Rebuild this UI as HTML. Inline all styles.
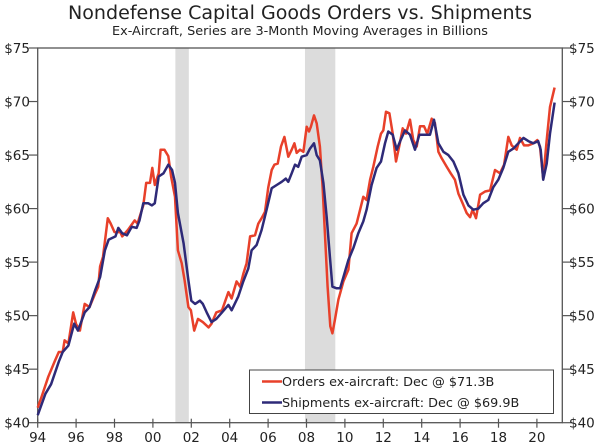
<!DOCTYPE html>
<html><head><meta charset="utf-8"><style>
html,body{margin:0;padding:0;background:#fff;}
svg{display:block;font-family:"DejaVu Sans","Liberation Sans",sans-serif;}
</style></head><body>
<svg id="chart" width="600" height="445" viewBox="0 0 600 445" xmlns="http://www.w3.org/2000/svg">
<text x="300" y="19" text-anchor="middle" font-size="18.5" fill="#222" textLength="464" lengthAdjust="spacingAndGlyphs">Nondefense Capital Goods Orders vs. Shipments</text>
<text x="300" y="35" text-anchor="middle" font-size="12.5" fill="#222" textLength="376" lengthAdjust="spacingAndGlyphs">Ex-Aircraft, Series are 3-Month Moving Averages in Billions</text>
<g id="recessions"></g>
<g id="axes"></g>
<g id="series"></g>
<g>
<rect x="249.5" y="370" width="304" height="43.5" fill="#fff" stroke="#444" stroke-width="1"/>
<line x1="262" y1="381.5" x2="282" y2="381.5" stroke="#e8402a" stroke-width="2.5"/>
<text x="282" y="386" font-size="12.8" fill="#222">Orders ex-aircraft: Dec @ $71.3B</text>
<line x1="262" y1="402.5" x2="282" y2="402.5" stroke="#2e2a78" stroke-width="2.5"/>
<text x="282" y="407" font-size="12.8" fill="#222">Shipments ex-aircraft: Dec @ $69.9B</text>
</g>
</svg>
<script>
const recStart = [2001.17, 2007.92];
const recEnd = [2001.87, 2009.5];
const yTicks = [40, 45, 50, 55, 60, 65, 70, 75];
const xTickYears = [1994,1996,1998,2000,2002,2004,2006,2008,2010,2012,2014,2016,2018,2020];
const xTickLabels = ["94","96","98","00","02","04","06","08","10","12","14","16","18","20"];

const ordersX = [1994.0,1994.2,1994.55,1994.9,1995.1,1995.3,1995.4,1995.6,1995.85,1996.0,1996.2,1996.45,1996.7,1997.0,1997.15,1997.25,1997.4,1997.65,1997.8,1998.0,1998.3,1998.4,1998.7,1999.05,1999.2,1999.5,1999.65,1999.85,1999.97,2000.1,2000.3,2000.4,2000.6,2000.8,2000.95,2001.15,2001.3,2001.5,2001.65,2001.85,2001.98,2002.15,2002.35,2002.6,2002.9,2003.05,2003.3,2003.6,2003.93,2004.1,2004.36,2004.54,2004.71,2004.88,2005.06,2005.32,2005.49,2005.66,2005.84,2006.01,2006.19,2006.33,2006.5,2006.67,2006.85,2007.05,2007.23,2007.37,2007.49,2007.66,2007.84,2008.01,2008.13,2008.23,2008.39,2008.53,2008.7,2008.84,2008.96,2009.1,2009.24,2009.35,2009.48,2009.66,2009.92,2010.18,2010.35,2010.61,2010.79,2010.96,2011.13,2011.31,2011.48,2011.71,2011.88,2012.0,2012.14,2012.32,2012.49,2012.66,2012.84,2013.01,2013.18,2013.39,2013.56,2013.74,2013.91,2014.12,2014.29,2014.52,2014.69,2014.87,2015.04,2015.3,2015.51,2015.73,2015.91,2016.13,2016.34,2016.52,2016.65,2016.83,2017.04,2017.3,2017.56,2017.82,2018.08,2018.29,2018.51,2018.69,2018.95,2019.12,2019.33,2019.55,2019.81,2020.02,2020.16,2020.33,2020.51,2020.68,2020.92];
const ordersY = [41.4,42.4,44.3,45.8,46.6,46.6,47.7,47.4,50.3,49.2,48.6,51.1,50.8,52.1,52.7,54.6,55.5,59.1,58.6,57.8,57.8,57.4,58.0,58.9,58.6,60.3,62.4,62.4,63.8,62.2,63.3,65.5,65.5,64.9,63.0,61.1,56.1,54.9,53.3,50.8,50.5,48.6,49.7,49.4,48.9,49.25,50.3,50.5,52.2,51.6,53.2,52.7,53.9,54.9,57.4,57.5,58.6,59.1,59.7,62.0,63.6,64.1,64.2,65.8,66.7,64.85,65.5,66.1,65.2,65.5,65.3,67.65,67.2,67.65,68.7,67.96,65.8,62.0,57.7,52.7,49.0,48.35,49.6,51.5,53.2,54.3,57.7,58.6,59.9,61.1,60.8,62.7,63.9,65.8,67.0,67.3,69.05,68.9,67.0,64.4,65.9,67.5,67.0,68.3,66.4,65.8,67.7,67.7,67.0,68.4,68.0,65.3,64.7,63.9,63.3,62.7,61.4,60.5,59.6,59.2,59.9,59.1,61.3,61.6,61.7,63.6,63.3,64.1,66.7,65.9,65.5,66.6,65.9,65.9,66.1,66.4,65.8,62.8,66.4,69.5,71.3];

const shipX = [1994.0,1994.4,1994.7,1995.1,1995.3,1995.6,1995.9,1996.1,1996.45,1996.7,1997.0,1997.25,1997.5,1997.7,1998.05,1998.2,1998.4,1998.65,1998.9,1999.15,1999.3,1999.5,1999.75,1999.95,2000.1,2000.3,2000.55,2000.8,2001.0,2001.15,2001.3,2001.6,2001.85,2002.0,2002.2,2002.45,2002.6,2002.8,2003.05,2003.3,2003.6,2003.93,2004.1,2004.45,2004.71,2004.97,2005.14,2005.4,2005.66,2005.92,2006.19,2006.45,2006.71,2006.92,2007.05,2007.23,2007.4,2007.57,2007.75,2008.01,2008.18,2008.39,2008.53,2008.7,2008.88,2009.05,2009.22,2009.35,2009.57,2009.75,2009.92,2010.18,2010.44,2010.7,2010.96,2011.13,2011.39,2011.65,2011.88,2012.09,2012.26,2012.49,2012.7,2012.9,2013.13,2013.39,2013.65,2013.88,2014.17,2014.43,2014.64,2014.87,2015.13,2015.39,2015.65,2015.91,2016.17,2016.43,2016.69,2016.95,2017.21,2017.47,2017.73,2017.99,2018.25,2018.51,2018.77,2019.03,2019.3,2019.55,2019.81,2020.07,2020.2,2020.33,2020.51,2020.68,2020.92];
const shipY = [40.7,42.7,43.6,45.7,46.6,47.2,49.25,48.6,50.3,50.8,52.4,53.6,56.1,57.1,57.4,58.2,57.7,57.5,58.3,58.2,58.9,60.5,60.5,60.3,60.5,63.0,63.3,64.1,63.6,62.4,59.6,56.75,53.3,51.4,51.1,51.4,51.1,50.3,49.4,49.7,50.3,51.0,50.5,51.8,53.2,54.4,56.1,56.6,58.0,59.9,61.9,62.2,62.5,62.8,62.5,63.3,64.1,63.9,64.85,65.0,65.6,66.1,65.0,64.5,62.4,59.2,55.5,52.7,52.55,52.55,53.6,55.2,56.3,57.7,58.8,59.9,62.2,63.8,64.4,66.1,67.2,66.9,65.5,66.4,67.3,66.9,65.5,66.9,66.9,66.9,68.3,66.1,65.3,65.0,64.4,63.3,61.3,60.3,59.9,60.0,60.5,60.8,62.0,62.7,63.8,65.3,65.6,66.1,66.6,66.3,66.1,66.3,65.5,62.7,64.2,67.0,69.9];

const L = 37.7, R = 562.3, T = 48, B = 422.7;
function xs(yr){ return L + (yr - 1994) * 19.2; }
function ys(v){ return B - (v - 40) * (B - T) / 35; }
const NS = "http://www.w3.org/2000/svg";
function mk(tag, attrs, parent){ const e = document.createElementNS(NS, tag); for (const k in attrs) e.setAttribute(k, attrs[k]); parent.appendChild(e); return e; }

const rec = document.getElementById('recessions');
for (let i = 0; i < recStart.length; i++) {
  const r = mk('rect', {x: xs(recStart[i]), y: T, width: xs(recEnd[i]) - xs(recStart[i]), height: B - T, fill: '#dcdcdc'}, rec);
  
  
}

const ax = document.getElementById('axes');
const frame = mk('rect', {x: L, y: T, width: R - L, height: B - T, fill: 'none', stroke: '#555', 'stroke-width': 1.3}, ax);


yTicks.forEach(v => {
  const y = ys(v);
  mk('line', {x1: L - 9, y1: y, x2: L, y2: y, stroke: '#555', 'stroke-width': 1.2}, ax);
  mk('line', {x1: R, y1: y, x2: R + 9, y2: y, stroke: '#555', 'stroke-width': 1.2}, ax);
  const t1 = mk('text', {x: 30, y: y + 5, 'text-anchor': 'end', 'font-size': 13.5, fill: '#222'}, ax);
  t1.textContent = '$' + v;
  
  
  const t2 = mk('text', {x: 569, y: y + 5, 'text-anchor': 'start', 'font-size': 13.5, fill: '#222'}, ax);
  t2.textContent = '$' + v;
  
  
});
xTickYears.forEach((yr, i) => {
  const x = xs(yr);
  mk('line', {x1: x, y1: B - 4, x2: x, y2: B + 5, stroke: '#555', 'stroke-width': 1.2}, ax);
  const t = mk('text', {x: x, y: 442, 'text-anchor': 'middle', 'font-size': 13.5, fill: '#222'}, ax);
  t.textContent = xTickLabels[i];
  
  
});

const ser = document.getElementById('series');
function path(X, Y){ return X.map((x, i) => (i ? 'L' : 'M') + xs(x).toFixed(1) + ',' + ys(Y[i]).toFixed(1)).join(''); }
const po = mk('path', {d: path(ordersX, ordersY), fill: 'none', stroke: '#e8402a', 'stroke-width': 2.5, 'stroke-linejoin': 'round'}, ser);


const ps = mk('path', {d: path(shipX, shipY), fill: 'none', stroke: '#2e2a78', 'stroke-width': 2.5, 'stroke-linejoin': 'round'}, ser);


</script>
</body></html>
